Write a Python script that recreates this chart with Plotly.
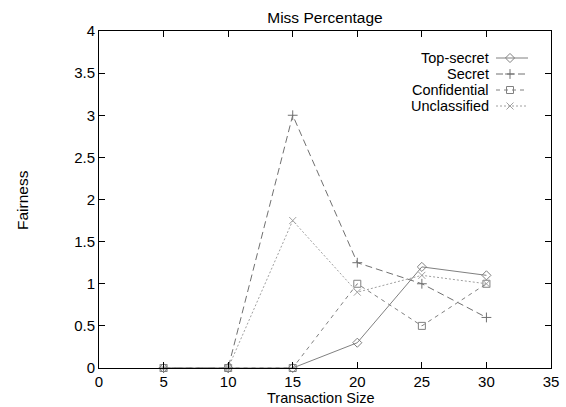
import plotly.graph_objects as go

sizes = [5, 10, 15, 20, 25, 30]
top_secret = [0, 0, 0, 0.3, 1.2, 1.1]
secret = [0, 0, 3.0, 1.25, 1.0, 0.6]
confidential = [0, 0, 0, 1.0, 0.5, 1.0]
unclassified = [0, 0, 1.75, 0.9, 1.1, 1.0]
series_names = ["Top-secret", "Secret", "Confidential", "Unclassified"]

styles = [
    dict(color="#808080", dash="solid", symbol="diamond-open"),
    dict(color="#707070", dash="7px,4px", symbol="cross-thin-open"),
    dict(color="#808080", dash="4px,4px", symbol="square-open"),
    dict(color="#a0a0a0", dash="2px,2px", symbol="x-thin-open"),
]
series = [top_secret, secret, confidential, unclassified]

FONT = "Liberation Sans, Arial, Helvetica, sans-serif"
L, R, T, B = 99, 551, 31, 368
PW, PH = R - L, B - T


def px(xp):
    return (xp - L) / PW


def py(yp):
    return (B - yp) / PH


fig = go.Figure()
for name, vals, st in zip(series_names, series, styles):
    fig.add_trace(go.Scatter(
        x=sizes, y=vals, mode="lines+markers", name=name,
        line=dict(color=st["color"], width=1, dash=st["dash"]),
        marker=dict(symbol=st["symbol"], size=7, color=st["color"],
                    line=dict(width=1, color=st["color"])),
        showlegend=False, cliponaxis=False,
    ))

# custom gnuplot-style legend (text on left, sample on right) in pixel coords
rows = [58, 74, 90, 106]
for name, st, yy in zip(series_names, styles, rows):
    fig.add_trace(go.Scatter(
        x=[496, 528], y=[yy, yy], mode="lines", xaxis="x2", yaxis="y2",
        line=dict(color=st["color"], width=1, dash=st["dash"]),
        showlegend=False, hoverinfo="skip"))
    fig.add_trace(go.Scatter(
        x=[510], y=[yy], mode="markers", xaxis="x2", yaxis="y2",
        marker=dict(symbol=st["symbol"], size=7, color=st["color"],
                    line=dict(width=1, color=st["color"])),
        showlegend=False, hoverinfo="skip"))
    fig.add_annotation(x=px(490), y=py(yy), xref="paper", yref="paper", text=name,
                       showarrow=False, xanchor="right", yanchor="middle", borderpad=0,
                       font=dict(family=FONT, size=14.5, color="black"))

# axis titles
fig.add_annotation(x=px(320), y=py(407), xref="paper", yref="paper",
                   text="Transaction Size", borderpad=0,
                   showarrow=False, xanchor="center", yanchor="bottom",
                   font=dict(family=FONT, size=14.5, color="black"))
fig.add_annotation(x=px(22), y=py(200), xref="paper", yref="paper", text="Fairness",
                   showarrow=False, textangle=-90, xanchor="center", yanchor="middle",
                   font=dict(family=FONT, size=15.5, color="black"))

axis_common = dict(showline=True, linecolor="black", linewidth=1, mirror="ticks",
                   ticks="inside", ticklen=6, tickcolor="black", showgrid=False,
                   zeroline=False, automargin=False,
                   tickfont=dict(family=FONT, size=15, color="black"))

fig.update_layout(
    width=566, height=407,
    margin=dict(l=L, r=566 - R, t=T, b=407 - B),
    paper_bgcolor="white", plot_bgcolor="white",
    title=dict(text="Miss Percentage", x=325/566, xanchor="center", y=1-18/407,
               yanchor="middle", font=dict(family=FONT, size=15.5, color="black")),
    xaxis=dict(range=[0, 35], dtick=5, tick0=0, **axis_common),
    yaxis=dict(range=[0, 4], dtick=0.5, tick0=0, **axis_common),
    xaxis2=dict(range=[L, R], overlaying="x", visible=False, anchor="y2"),
    yaxis2=dict(range=[B, T], overlaying="y", visible=False, anchor="x2"),
)

fig.write_html("out.html", config={"displayModeBar": False},
               post_script="document.body.style.margin='0';document.body.style.padding='0';")
